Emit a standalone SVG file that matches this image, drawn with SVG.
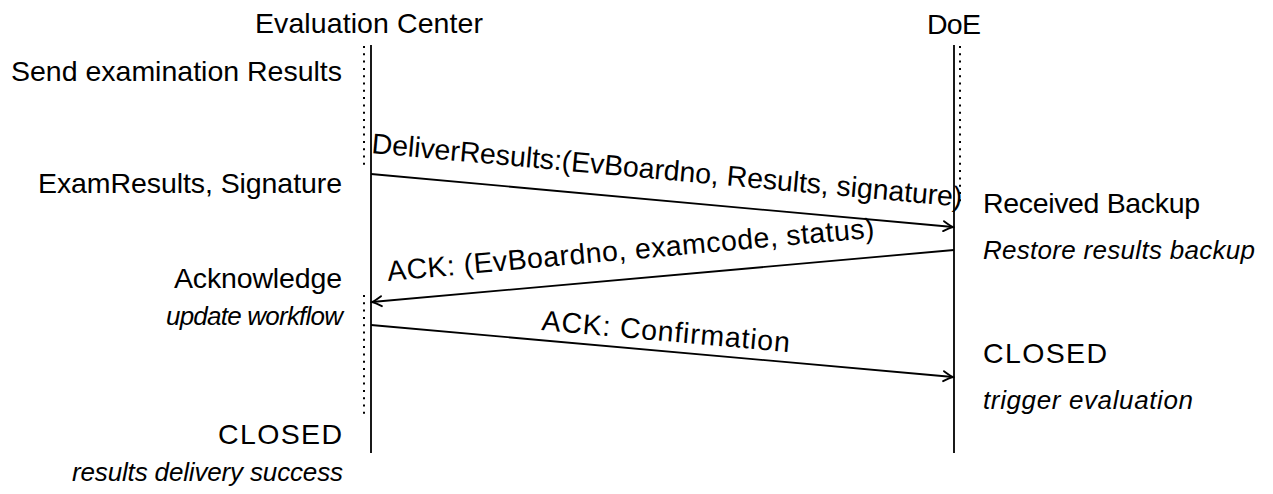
<svg xmlns="http://www.w3.org/2000/svg" width="1273" height="494" viewBox="0 0 1273 494">
  <style>
    text { font-family: "Liberation Sans", Arial, sans-serif; fill: #000; }
    .t { font-size: 28.5px; }
    .i { font-size: 26px; font-style: italic; }
    .life { stroke: #000; stroke-width: 1.8; fill: none; }
    .dot { stroke: #000; stroke-width: 2; stroke-dasharray: 2 5.3; fill: none; }
    .msg { stroke: #000; stroke-width: 1.8; fill: none; }
  </style>
  <defs>
    <marker id="arr" markerUnits="userSpaceOnUse" markerWidth="14" markerHeight="14" viewBox="-12 -7 14 14" refX="0" refY="0" orient="auto">
      <path d="M -9.5 -5 Q -3 -1 0 0 Q -3 1 -9.5 5" fill="none" stroke="#000" stroke-width="1.9" stroke-linecap="round"/>
    </marker>
  </defs>
  <rect width="1273" height="494" fill="#fff"/>

  <g id="evaluation-center">
    <text class="t" x="369" y="33" text-anchor="middle" textLength="228">Evaluation Center</text>
    <line class="life" x1="371" y1="45" x2="371" y2="453"/>
    <line class="dot" x1="364" y1="46" x2="364" y2="165"/>
    <line class="dot" x1="364" y1="295" x2="364" y2="416"/>
  </g>

  <g id="doe">
    <text class="t" x="954" y="34" text-anchor="middle" textLength="54">DoE</text>
    <line class="life" x1="954" y1="45" x2="954" y2="453"/>
    <line class="dot" x1="960" y1="46" x2="960" y2="205"/>
  </g>

  <g id="ec-states">
    <text class="t" x="342" y="81" text-anchor="end" textLength="331">Send examination Results</text>
    <text class="t" x="342" y="193" text-anchor="end" textLength="304">ExamResults, Signature</text>
    <text class="t" x="342" y="288" text-anchor="end" textLength="168">Acknowledge</text>
    <text class="i" x="343" y="325" text-anchor="end" textLength="177">update workflow</text>
    <text class="t" x="342" y="444" text-anchor="end" textLength="124">CLOSED</text>
    <text class="i" x="343" y="481" text-anchor="end" textLength="271">results delivery success</text>
  </g>

  <g id="doe-states">
    <text class="t" x="983" y="213" textLength="217">Received Backup</text>
    <text class="i" x="983" y="259" textLength="272">Restore results backup</text>
    <text class="t" x="983" y="363" textLength="124">CLOSED</text>
    <text class="i" x="983" y="409" textLength="210">trigger evaluation</text>
  </g>

  <g id="connectors">
    <g id="msg-deliver">
      <line class="msg" x1="371" y1="174" x2="953" y2="227" marker-end="url(#arr)"/>
      <text class="t" transform="translate(371,153) rotate(5.2)" x="0" y="0" textLength="593">DeliverResults:(EvBoardno, Results, signature)</text>
    </g>
    <g id="msg-ack">
      <line class="msg" x1="954" y1="250" x2="372" y2="302" marker-end="url(#arr)"/>
      <text class="t" transform="translate(388,281) rotate(-5.1)" x="0" y="0" textLength="489">ACK: (EvBoardno, examcode, status)</text>
    </g>
    <g id="msg-confirm">
      <line class="msg" x1="371" y1="325" x2="953" y2="377" marker-end="url(#arr)"/>
      <text class="t" transform="translate(541,330) rotate(5.1)" x="0" y="0" textLength="249">ACK: Confirmation</text>
    </g>
  </g>
</svg>
